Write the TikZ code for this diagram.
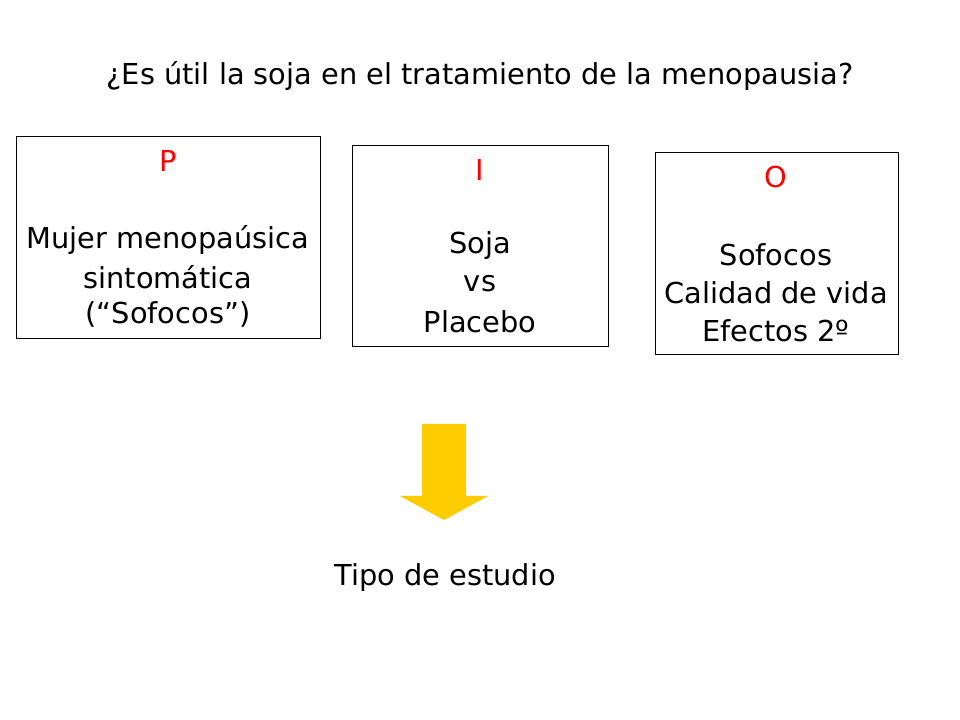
\documentclass[tikz,border=0pt]{standalone}
\usepackage{fontspec}
\setmainfont{DejaVu Sans}
\usetikzlibrary{positioning}
\definecolor{picored}{RGB}{255,0,0}
\definecolor{arrowyellow}{RGB}{255,204,0}

\begin{document}
\begin{tikzpicture}[
    x=0.025cm, y=-0.025cm,
    txt/.style = {
      inner sep = 0pt, font = \fontsize{20.5}{24}\selectfont,
    },
    letter/.style = {txt, text = picored},
    pbox/.style = {draw, thin, black},
  ]
  \useasboundingbox (0,0) rectangle (960,720);

  \node[txt] (title) at (480,76) {¿Es útil la soja en el tratamiento de la menopausia?};

  % P
  \draw[pbox] (16,136) rectangle (320,338);
  \node[letter] (P) at (168,161) {P};
  \node[txt] (P1) at (168,240) {Mujer menopaúsica};
  \node[txt] (P2) at (168,277) {sintomática};
  \node[txt] (P3) at (168,314) {(“Sofocos”)};

  % I
  \draw[pbox] (352,145) rectangle (608,346);
  \node[letter] (I) at (480,170) {I};
  \node[txt] (I1) at (480,246) {Soja};
  \node[txt] (I2) at (480,284) {vs};
  \node[txt] (I3) at (480,322) {Placebo};

  % O
  \draw[pbox] (655,152) rectangle (898,354);
  \node[letter] (O) at (776,177) {O};
  \node[txt] (O1) at (776,255) {Sofocos};
  \node[txt] (O2) at (776,293) {Calidad de vida};
  \node[txt] (O3) at (776,331) {Efectos 2º};

  \fill[arrowyellow] (422,424) -- (466,424) -- (466,496) -- (488,496)
    -- (444,520) -- (400,496) -- (422,496) -- cycle;

  \node[txt] (tipo) at (445,578) {Tipo de estudio};
\end{tikzpicture}
\end{document}
